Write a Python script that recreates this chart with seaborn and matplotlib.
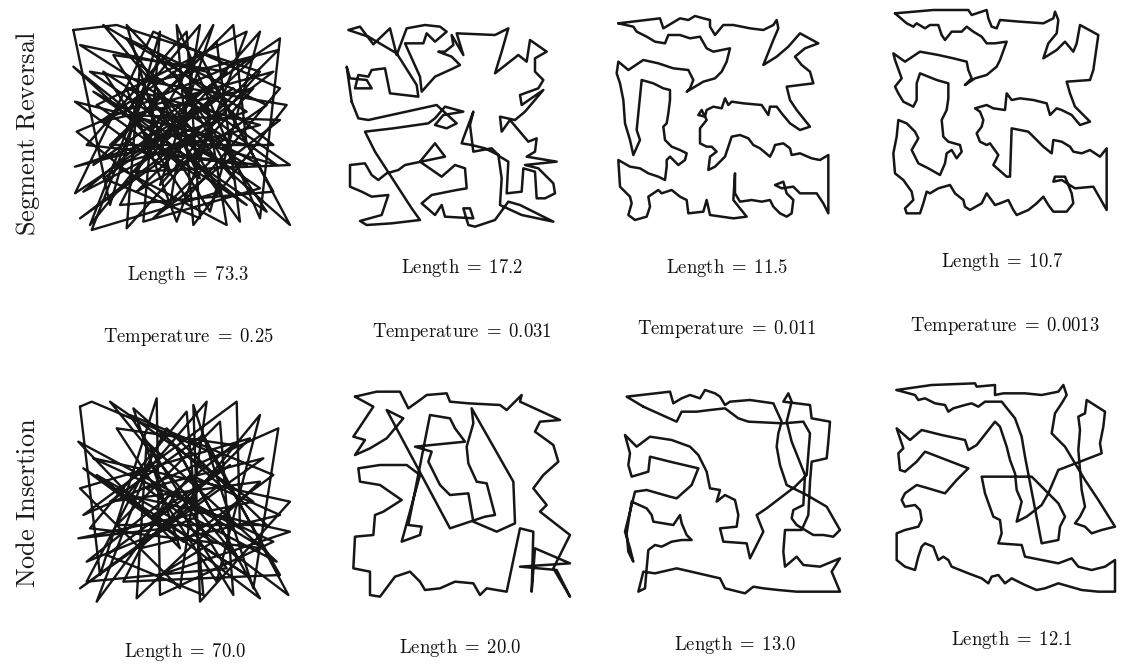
import matplotlib
matplotlib.use("Agg")
import matplotlib.pyplot as plt
import seaborn as sns
import pandas as pd

sns.set_theme(style="white")
plt.rcParams["mathtext.fontset"] = "cm"

# ---------------- data: city coordinates of each tour (square units) -------------
TOUR_SR_1 = [(40,75),(150,600),(300,80),(250,650),(600,550),(90,200),(680,300),(400,660),(350,60),(600,640),(660,100),(100,480),(520,60),(560,420),(45,290),(330,500),(200,60),(470,350),(60,640),(640,200),(280,300),(690,660),(420,150),(120,350),(580,250),(200,670),(240,180),(650,480),(380,400),(70,560),(500,200),(160,150),(450,620),(600,80),(300,420),(45,485),(560,320),(130,60),(520,520),(340,200),(620,620),(100,260),(460,460),(280,640),(660,345),(190,330),(420,60),(330,600),(50,380),(590,150),(220,500),(690,480),(400,280),(90,660),(250,250),(540,650),(470,110),(150,420),(640,420),(300,150),(95,675),(480,560),(200,100),(620,300),(360,480),(40,185),(560,600),(260,400),(520,250),(130,520),(420,640),(380,80),(80,420),(600,480),(320,330),(180,600),(640,560),(440,200),(60,120),(500,400),(230,560),(655,135),(280,230),(420,520),(110,300),(560,80),(350,650),(200,250),(600,360),(160,480),(500,660),(440,300),(45,565),(280,80),(660,250),(380,580),(130,200),(560,480),(240,440),(460,60),(300,540),(600,200),(170,60)]
TOUR_SR_2 = [(50,290),(35,185),(45,220),(95,225),(110,250),(60,250),(70,210),(100,215),(110,195),(150,190),(165,265),(250,275),(245,240),(185,145),(100,95),(40,75),(75,65),(115,118),(165,70),(185,150),(200,110),(215,70),(270,60),(315,65),(335,80),(300,110),(275,85),(265,115),(210,115),(255,215),(260,260),(300,215),(355,190),(375,180),(350,155),(310,140),(330,140),(355,120),(350,90),(385,150),(365,85),(480,90),(520,70),(500,140),(480,205),(550,150),(575,170),(585,105),(635,140),(600,160),(600,200),(625,225),(610,250),(555,270),(560,300),(625,255),(570,320),(540,345),(495,335),(500,380),(525,345),(580,410),(605,400),(600,440),(575,455),(665,470),(570,480),(610,490),(655,535),(660,565),(630,580),(605,580),(600,500),(565,490),(560,560),(515,565),(520,470),(495,455),(470,430),(415,440),(405,360),(415,320),(385,400),(380,415),(410,420),(450,430),(490,450),(500,520),(495,600),(560,630),(655,650),(555,600),(520,590),(480,645),(420,665),(400,660),(385,610),(405,610),(415,640),(330,635),(320,600),(300,630),(260,595),(290,570),(365,555),(395,550),(390,490),(360,480),(320,515),(255,470),(300,415),(330,455),(210,480),(190,495),(155,505),(130,525),(110,510),(90,475),(45,480),(45,545),(80,560),(110,575),(160,570),(140,630),(75,648),(95,660),(170,655),(255,645),(230,610),(120,440),(105,410),(90,380),(175,370),(280,355),(300,340),(330,305),(385,320),(325,330),(300,360),(335,370),(365,355),(305,300),(100,345),(70,340)]
TOUR_SR_3 = [(55,70),(180,55),(190,85),(215,70),(240,55),(265,60),(285,48),(310,55),(330,60),(330,80),(345,105),(370,75),(400,75),(450,85),(490,90),(520,75),(530,60),(535,85),(520,120),(500,170),(490,195),(530,170),(565,140),(600,100),(655,130),(615,145),(585,170),(605,195),(630,215),(640,250),(560,260),(570,300),(590,330),(630,380),(600,390),(570,370),(545,340),(530,320),(510,320),(505,345),(485,315),(430,310),(395,305),(385,315),(375,295),(365,325),(340,320),(320,330),(315,350),(295,345),(305,330),(320,360),(300,385),(300,430),(320,440),(335,440),(350,455),(330,470),(325,510),(345,500),(375,470),(385,440),(395,410),(420,405),(445,415),(460,435),(480,445),(510,470),(520,450),(525,435),(550,430),(570,445),(575,465),(600,460),(635,475),(660,480),(685,465),(685,580),(685,640),(670,610),(650,580),(600,580),(580,560),(545,565),(525,555),(550,545),(560,580),(580,600),(575,640),(560,650),(540,640),(520,620),(510,600),(485,605),(455,600),(420,605),(405,580),(405,520),(400,600),(440,650),(400,655),(330,645),(320,600),(310,635),(265,640),(260,600),(240,590),(215,570),(185,580),(175,570),(145,590),(150,620),(140,650),(105,660),(85,645),(95,610),(90,590),(60,560),(55,480),(90,500),(120,505),(145,520),(175,530),(195,540),(200,500),(200,480),(210,470),(235,495),(255,480),(260,460),(240,450),(215,440),(195,420),(190,380),(200,370),(205,340),(210,300),(210,270),(190,265),(160,250),(125,240),(120,290),(115,340),(110,390),(120,420),(100,465),(90,420),(75,370),(70,300),(60,250),(50,220),(55,185),(85,210),(130,180),(175,190),(220,205),(265,210),(280,240),(270,265),(260,275),(285,260),(310,245),(345,235),(365,215),(380,185),(390,145),(365,150),(340,155),(320,145),(300,110),(270,115),(240,105),(205,105),(195,130),(165,125),(140,110),(110,95),(100,80)]
TOUR_SR_4 = [(45,40),(160,30),(265,30),(275,45),(320,30),(325,55),(335,80),(350,85),(360,60),(420,65),(490,70),(520,55),(525,35),(535,60),(530,100),(505,130),(490,175),(530,150),(555,125),(580,155),(590,130),(600,75),(655,105),(650,140),(640,210),(630,240),(560,245),(570,280),(585,320),(630,365),(600,375),(575,345),(545,330),(530,325),(510,345),(500,310),(460,300),(420,295),(395,300),(380,280),(375,330),(340,325),(320,315),(285,325),(300,335),(310,360),(305,380),(290,400),(300,425),(320,435),(330,430),(355,465),(340,495),(380,530),(390,530),(395,385),(445,395),(470,420),(490,440),(515,460),(520,420),(545,425),(570,440),(580,455),(605,460),(630,450),(660,470),(680,445),(680,630),(660,595),(640,560),(585,565),(545,540),(520,545),(525,530),(555,530),(575,580),(580,610),(560,635),(520,635),(505,615),(490,590),(470,610),(445,630),(410,645),(400,630),(385,600),(360,610),(345,615),(320,580),(305,610),(270,630),(255,620),(250,600),(225,580),(210,555),(175,565),(150,580),(140,575),(130,610),(120,640),(80,640),(75,625),(100,600),(95,575),(70,540),(45,520),(40,460),(50,410),(55,360),(80,370),(105,395),(115,415),(95,450),(115,490),(145,505),(180,525),(195,490),(200,460),(215,450),(230,475),(245,455),(240,435),(205,425),(190,410),(185,360),(200,330),(205,295),(205,250),(170,240),(120,220),(110,250),(110,300),(100,320),(70,305),(55,280),(45,260),(65,235),(45,180),(40,160),(75,185),(120,155),(175,165),(220,175),(260,185),(265,210),(275,235),(255,255),(285,235),(320,225),(350,200),(360,180),(380,125),(345,130),(320,130),(305,110),(280,95),(260,80),(245,95),(215,95),(195,120),(185,105),(175,75),(150,75),(135,85),(110,70),(100,80),(80,70)]
TOUR_NI_1 = [(60,95),(120,600),(290,70),(300,660),(640,500),(100,250),(690,380),(420,680),(400,90),(580,640),(655,160),(70,420),(530,80),(540,460),(55,200),(360,520),(220,100),(480,330),(60,640),(610,250),(260,340),(685,660),(430,180),(150,380),(600,320),(230,670),(260,200),(650,560),(400,430),(80,560),(520,210),(170,160),(470,620),(600,120),(320,460),(55,490),(580,380),(150,80),(540,560),(350,220),(600,670),(110,300),(460,500),(300,600),(690,470),(200,360),(440,80),(360,640),(60,340),(570,190),(240,520),(660,420),(390,300),(110,680),(270,260),(520,660),(480,140),(170,450),(620,450),(320,160),(80,620),(500,580),(210,120),(640,300),(370,500),(70,280),(560,600),(280,420),(510,270),(140,540),(430,660),(380,110),(90,460),(610,520),(330,350),(190,620),(660,600),(450,230),(95,80)]
TOUR_NI_2 = [(45,65),(110,50),(180,50),(205,100),(240,75),(260,60),(320,55),(330,80),(385,85),(480,90),(500,105),(545,60),(540,80),(660,135),(600,140),(585,170),(640,210),(655,260),(610,300),(580,340),(620,390),(600,410),(690,480),(660,540),(640,580),(690,665),(650,585),(540,575),(690,565),(585,520),(575,650),(580,470),(540,460),(500,650),(440,640),(420,660),(400,625),(345,620),(300,640),(255,645),(240,620),(210,590),(165,605),(120,665),(90,660),(90,630),(90,590),(40,580),(45,485),(100,480),(105,420),(130,410),(185,375),(120,330),(60,320),(55,280),(120,270),(200,270),(240,300),(185,500),(240,480),(245,455),(205,450),(270,120),(330,130),(345,160),(375,200),(225,215),(275,230),(265,260),(280,290),(300,330),(330,360),(385,355),(400,440),(470,470),(525,445),(520,320),(395,100),(400,145),(380,215),(385,265),(410,320),(440,325),(465,420),(435,425),(330,460),(140,105),(190,130),(140,190),(90,220),(45,240),(75,195),(40,185),(100,95)]
TOUR_NI_3 = [(100,95),(50,65),(180,50),(190,85),(215,70),(240,60),(270,70),(285,45),(315,55),(330,65),(345,90),(360,80),(420,75),(490,85),(515,140),(505,175),(500,215),(510,270),(530,330),(560,345),(590,360),(650,395),(690,465),(670,485),(640,480),(610,480),(585,465),(560,450),(545,430),(550,405),(580,390),(585,300),(565,250),(545,200),(530,140),(545,80),(535,55),(520,80),(600,90),(605,130),(660,140),(655,200),(650,250),(605,260),(600,320),(595,420),(575,465),(525,465),(520,530),(525,575),(560,545),(580,570),(630,575),(690,550),(665,590),(690,650),(560,650),(505,645),(460,640),(430,635),(405,655),(345,640),(330,610),(200,580),(135,595),(100,590),(85,650),(105,640),(110,580),(115,525),(135,510),(155,515),(185,500),(215,495),(245,495),(230,480),(215,445),(210,420),(190,450),(130,440),(125,420),(110,400),(65,380),(50,475),(55,530),(70,560),(60,520),(45,470),(75,350),(110,345),(180,365),(200,370),(245,330),(265,280),(180,260),(120,245),(115,290),(65,305),(55,270),(60,235),(45,180),(80,215),(120,185),(185,195),(240,215),(265,240),(290,290),(300,340),(330,345),(320,380),(345,360),(375,375),(385,420),(380,455),(330,460),(340,500),(410,505),(420,550),(460,470),(440,420),(470,400),(555,335),(590,300),(600,175),(580,140),(520,145),(415,140),(385,130),(345,100),(300,105),(260,110),(215,110),(200,140)]
TOUR_NI_4 = [(35,60),(140,45),(270,40),(275,50),(330,45),(330,75),(355,70),(420,70),(470,75),(520,65),(535,45),(545,75),(530,100),(510,130),(505,160),(500,190),(540,230),(600,330),(640,390),(690,470),(650,480),(620,490),(600,470),(570,460),(585,440),(600,410),(590,360),(585,300),(580,240),(585,180),(580,140),(600,130),(605,90),(660,125),(655,170),(645,220),(650,250),(520,300),(490,370),(470,405),(425,440),(395,455),(410,395),(395,360),(390,310),(375,270),(365,230),(345,170),(330,155),(275,225),(250,240),(240,210),(170,195),(110,180),(75,210),(35,175),(55,235),(40,250),(45,300),(60,305),(95,275),(120,245),(250,295),(215,330),(180,370),(130,355),(95,345),(60,370),(50,390),(60,410),(90,405),(105,420),(110,450),(100,470),(60,480),(35,490),(35,570),(60,590),(90,600),(100,560),(110,530),(120,520),(145,530),(160,570),(175,560),(190,570),(200,590),(250,610),(290,625),(310,640),(320,620),(340,615),(360,640),(380,625),(400,635),(420,645),(455,660),(480,655),(520,640),(590,660),(640,665),(690,665),(690,570),(660,590),(620,600),(580,590),(560,565),(520,580),(420,560),(410,525),(340,520),(350,490),(345,450),(325,440),(300,370),(290,320),(440,320),(470,350),(520,400),(540,440),(525,470),(520,510),(470,520),(420,260),(410,200),(390,145),(350,95),(320,95),(300,95),(280,110),(260,100),(240,105),(205,115),(190,125),(180,105),(150,100),(120,85),(100,90),(90,75)]

TOURS = [TOUR_SR_1, TOUR_SR_2, TOUR_SR_3, TOUR_SR_4,
         TOUR_NI_1, TOUR_NI_2, TOUR_NI_3, TOUR_NI_4]
LENGTHS = ["73.3", "17.2", "11.5", "10.7", "70.0", "20.0", "13.0", "12.1"]
TEMPERATURES = ["0.25", "0.031", "0.011", "0.0013"]
ROW_LABELS = ["Segment Reversal", "Node Insertion"]

# ---------------- layout (figure pixels) ----------------
W, H = 1126, 665
PANEL_BOXES = [(60, 5, 245, 240), (335, 5, 240, 235), (600, 0, 240, 235), (880, 0, 240, 235),
               (60, 375, 245, 240), (340, 375, 240, 240), (610, 375, 240, 235), (885, 370, 240, 235)]
LEN_POS = [(188, 275), (462, 268), (727, 268), (1002, 262),
           (185, 652), (460, 648), (735, 645), (1012, 640)]
TEMP_POS = [(188, 337), (462, 332), (727, 329), (1005, 326)]
ROW_POS = [(28, 133), (28, 503)]

fig = plt.figure(figsize=(W / 100, H / 100), dpi=100)
fig.patch.set_facecolor("white")

for i, (tour, (x0, y0, w, h)) in enumerate(zip(TOURS, PANEL_BOXES)):
    ax = fig.add_axes([x0 / W, 1 - (y0 + h) / H, w / W, h / H])
    df = pd.DataFrame(tour + [tour[0]], columns=["x", "y"])
    sns.lineplot(data=df, x="x", y="y", sort=False, estimator=None, color="#161616",
                 linewidth=1.7 if i % 4 == 0 else 1.8, ax=ax)
    ax.set_xlim(0, 3 * w)
    ax.set_ylim(3 * h, 0)
    ax.set_axis_off()

for val, (px, py) in zip(LENGTHS, LEN_POS):
    fig.text(px / W, 1 - py / H, r"$\mathrm{Length}\;=\;%s$" % val, ha="center", va="center",
             fontsize=13.5, color="#111111")
for val, (px, py) in zip(TEMPERATURES, TEMP_POS):
    fig.text(px / W, 1 - py / H, r"$\mathrm{Temperature}\;=\;%s$" % val, ha="center", va="center",
             fontsize=13.5, color="#111111")
for lab, (px, py) in zip(ROW_LABELS, ROW_POS):
    fig.text(px / W, 1 - py / H, r"$\mathrm{%s}$" % lab.replace(" ", r"\ "), rotation=90,
             ha="center", va="center", fontsize=19, color="#1a1a1a")

fig.savefig("out.png", dpi=100, facecolor="white")
